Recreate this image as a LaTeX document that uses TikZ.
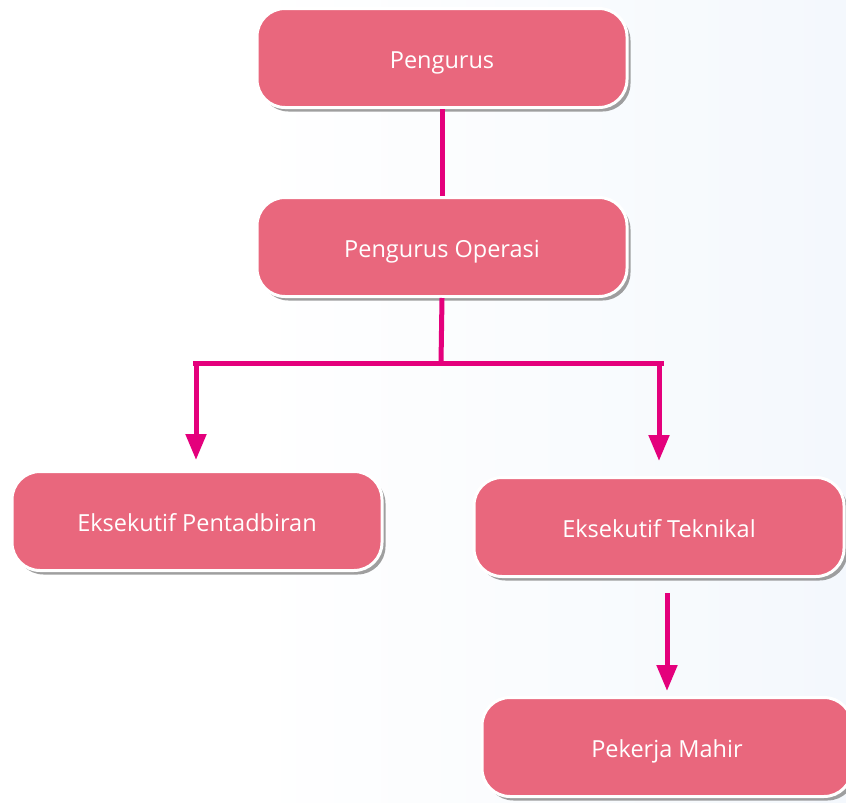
\documentclass[tikz,border=0pt]{standalone}
\usepackage{fontspec}
\setmainfont{Open Sans}
\usetikzlibrary{arrows.meta,shadows,calc}
\definecolor{boxfill}{RGB}{233,103,125}
\definecolor{linkpink}{RGB}{228,0,124}
\definecolor{bgright}{RGB}{236,243,251}
% white on the left half, fading to pale blue at the right edge
\pgfdeclarehorizontalshading{pagebg}{100bp}{
  color(0bp)=(white); color(40bp)=(white); color(100bp)=(bgright)}
\tikzset{
  orgbox/.style={rounded corners=28pt, fill=boxfill, draw=white, line width=3pt,
    minimum width=370pt, minimum height=99pt, text=white,
    text height=20pt, text depth=0pt,
    font=\fontsize{23.5}{28}\selectfont,
    drop shadow={shadow xshift=3.5pt, shadow yshift=-4pt, fill=black!50, opacity=0.75}},
  link/.style={draw=linkpink, line width=5pt},
  arrowlink/.style={link, -{Triangle[width=20pt,length=26pt]}}
}
\begin{document}
\begin{tikzpicture}[x=1pt,y=1pt]
  % page background
  \shade[shading=pagebg] (0,0) rectangle (846,-803);
  \useasboundingbox (0,0) rectangle (846,-803);

  % boxes
  \node[orgbox] (pg)  at (442,-58)  {Pengurus};
  \node[orgbox] (po)  at (442,-247) {Pengurus Operasi};
  \node[orgbox] (ep)  at (197,-521) {Eksekutif Pentadbiran};
  \node[orgbox] (et)  at (659,-527) {Eksekutif Teknikal};
  \node[orgbox] (pm)  at (667,-747) {Pekerja Mahir};

  % branch points
  \coordinate (bar) at (441,-363);
  \coordinate (barL) at (193,-363);
  \coordinate (barR) at (664,-363);
  \coordinate (tipL) at (196,-363);
  \coordinate (tipR) at (659,-363);

  % connectors
  \draw[link] (pg.south) -- (po.north);
  \draw[link] (po.south) -- (bar);
  \draw[link] (barL) -- (barR);
  \draw[arrowlink, shorten >=10pt] (tipL) -- (tipL |- ep.north);
  \draw[arrowlink, shorten >=15pt] (tipR) -- (tipR |- et.north);
  \draw[arrowlink, shorten <=15pt, shorten >=5pt] (et.south -| pm.north) -- (pm.north);
\end{tikzpicture}
\end{document}
